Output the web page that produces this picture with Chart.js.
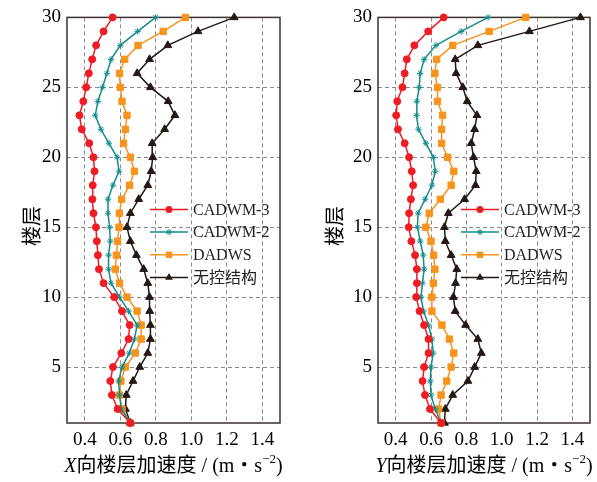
<!DOCTYPE html>
<html>
<head>
<meta charset="utf-8">
<script src="https://cdn.jsdelivr.net/npm/chart.js@4"></script>
<style>
  body { margin: 0; background: #fff; }
  #wrap { position: relative; width: 597px; height: 482px; overflow: hidden; }
  canvas { position: absolute; top: 0; }
</style>
</head>
<body>
<div id="wrap">
  <canvas id="chartX" width="298" height="482" style="left:0"></canvas>
  <canvas id="chartY" width="299" height="482" style="left:298px"></canvas>
</div>
<script>
const floors = [1,2,3,4,5,6,7,8,9,10,11,12,13,14,15,16,17,18,19,20,21,22,23,24,25,26,27,28,29,30];
const xTicks = [0.4, 0.6, 0.8, 1.0, 1.2, 1.4];
const yTicks = [5, 10, 15, 20, 25, 30];
const seriesNames = ["CADWM-3", "CADWM-2", "DADWS", "无控结构"];

// X direction, floor 1 -> 30
const xCadwm3 = [0.657,0.585,0.553,0.544,0.559,0.606,0.647,0.653,0.610,0.566,0.506,0.480,0.474,0.468,0.463,0.449,0.443,0.445,0.455,0.449,0.425,0.383,0.370,0.392,0.408,0.423,0.442,0.464,0.506,0.557];
const xCadwm2 = [0.657,0.606,0.596,0.591,0.610,0.651,0.680,0.695,0.647,0.596,0.548,0.534,0.534,0.544,0.540,0.531,0.531,0.559,0.593,0.582,0.536,0.491,0.459,0.474,0.500,0.525,0.548,0.600,0.698,0.799];
const xDadws   = [0.657,0.610,0.595,0.604,0.629,0.685,0.718,0.718,0.695,0.638,0.596,0.572,0.578,0.585,0.593,0.595,0.608,0.653,0.680,0.657,0.619,0.629,0.638,0.610,0.600,0.596,0.625,0.700,0.842,0.967];
const xNone    = [0.657,0.629,0.634,0.672,0.710,0.755,0.770,0.770,0.766,0.765,0.755,0.732,0.691,0.657,0.638,0.657,0.704,0.755,0.774,0.783,0.780,0.850,0.908,0.870,0.770,0.695,0.765,0.868,1.038,1.242];

// Y direction, floor 1 -> 30
const yCadwm3 = [0.657,0.594,0.566,0.552,0.561,0.586,0.586,0.561,0.535,0.516,0.520,0.520,0.510,0.489,0.474,0.476,0.486,0.499,0.491,0.476,0.451,0.413,0.403,0.409,0.438,0.451,0.463,0.506,0.584,0.672];
const yCadwm2 = [0.657,0.624,0.600,0.596,0.600,0.613,0.605,0.586,0.558,0.543,0.552,0.561,0.556,0.539,0.523,0.527,0.567,0.605,0.624,0.613,0.571,0.529,0.518,0.520,0.533,0.539,0.561,0.628,0.771,0.923];
const yDadws   = [0.657,0.643,0.657,0.689,0.714,0.729,0.704,0.662,0.605,0.605,0.613,0.622,0.615,0.600,0.571,0.590,0.653,0.714,0.729,0.694,0.660,0.660,0.666,0.637,0.637,0.622,0.632,0.723,0.929,1.136];
const yNone    = [0.676,0.681,0.723,0.809,0.847,0.885,0.865,0.796,0.737,0.727,0.739,0.746,0.714,0.681,0.676,0.698,0.790,0.852,0.856,0.841,0.828,0.847,0.860,0.805,0.780,0.742,0.737,0.865,1.157,1.446];

const colors = ["#ee1c24", "#138c8c", "#f7941d", "#231815"];
const styles = ["circle", "star", "rect", "triangle"];
const radii = [3.5, 3.2, 4.5, 4.5];

const serif = '"Liberation Serif", "Noto Sans CJK SC", serif';

function makeSets(lists) {
  return lists.map((vals, i) => ({
    label: seriesNames[i],
    data: vals.map((v, k) => ({ x: v, y: floors[k] })),
    showLine: true,
    borderColor: colors[i],
    backgroundColor: colors[i],
    borderWidth: 1.5,
    pointStyle: styles[i],
    pointRadius: radii[i],
    pointBorderWidth: 1,
    tension: 0,
    clip: false
  }));
}

function marker(ctx, style, x, y, r, color) {
  ctx.save();
  ctx.fillStyle = color;
  ctx.strokeStyle = color;
  ctx.lineWidth = 1;
  ctx.beginPath();
  if (style === "circle") {
    ctx.arc(x, y, r, 0, Math.PI * 2);
    ctx.fill();
  } else if (style === "rect") {
    const s = r * Math.SQRT1_2;
    ctx.fillRect(x - s, y - s, 2 * s, 2 * s);
  } else if (style === "triangle") {
    ctx.moveTo(x, y - r);
    ctx.lineTo(x + r * 0.866, y + r * 0.5);
    ctx.lineTo(x - r * 0.866, y + r * 0.5);
    ctx.closePath();
    ctx.fill();
  } else {
    for (let a = 0; a < 4; a++) {
      const t = a * Math.PI / 4;
      ctx.moveTo(x - r * Math.cos(t), y - r * Math.sin(t));
      ctx.lineTo(x + r * Math.cos(t), y + r * Math.sin(t));
    }
    ctx.stroke();
  }
  ctx.restore();
}

const decor = {
  id: "decor",
  beforeDatasetsDraw(chart) {
    const a = chart.chartArea, ctx = chart.ctx;
    ctx.save();
    ctx.strokeStyle = "#3a3330";
    ctx.lineWidth = 1.5;
    ctx.strokeRect(a.left, a.top, a.right - a.left, a.bottom - a.top);
    ctx.restore();
  },
  afterDraw(chart, args, opts) {
    const a = chart.chartArea, ctx = chart.ctx;
    ctx.save();
    // y title
    ctx.fillStyle = "#000";
    ctx.font = "20px " + serif;
    ctx.textAlign = "center";
    ctx.textBaseline = "middle";
    ctx.translate(opts.yTitleX, 226);
    ctx.rotate(-Math.PI / 2);
    ctx.fillText("楼层", 0, 0);
    ctx.restore();

    // x title with italic letter and superscript
    const parts = [
      { t: opts.dir, f: "italic 20px " + serif, dy: 0 },
      { t: "向楼层加速度 / (m・s", f: "20px " + serif, dy: 0 },
      { t: "−2", f: "13px " + serif, dy: -7 },
      { t: ")", f: "20px " + serif, dy: 0 }
    ];
    ctx.save();
    ctx.fillStyle = "#000";
    ctx.textBaseline = "middle";
    ctx.textAlign = "left";
    let total = 0;
    parts.forEach(p => { ctx.font = p.f; p.w = ctx.measureText(p.t).width; total += p.w; });
    let x = (a.left + a.right) / 2 - total / 2;
    parts.forEach(p => { ctx.font = p.f; ctx.fillText(p.t, x, 467 + p.dy); x += p.w; });
    ctx.restore();

    // legend
    ctx.save();
    chart.data.datasets.forEach((ds, i) => {
      const y = a.top + 192 + i * 22.7;
      const x0 = a.left + 83, x1 = a.left + 121;
      ctx.strokeStyle = ds.borderColor;
      ctx.lineWidth = 1.5;
      ctx.beginPath();
      ctx.moveTo(x0, y);
      ctx.lineTo(x1, y);
      ctx.stroke();
      marker(ctx, styles[i], (x0 + x1) / 2, y, radii[i], colors[i]);
      ctx.fillStyle = "#222";
      ctx.font = "16px " + serif;
      ctx.textAlign = "left";
      ctx.textBaseline = "middle";
      ctx.fillText(ds.label, a.left + 126, y + 1);
    });
    ctx.restore();
  }
};

function drawChart(id, lists, dir, axisWidth, padRight, yTitleX) {
  return new Chart(document.getElementById(id), {
    type: "scatter",
    data: { datasets: makeSets(lists) },
    plugins: [decor],
    options: {
      responsive: false,
      animation: false,
      devicePixelRatio: 1,
      layout: { padding: { top: 17, right: padRight, left: 0, bottom: 0 } },
      plugins: {
        legend: { display: false },
        tooltip: { enabled: false },
        decor: { dir: dir, yTitleX: yTitleX }
      },
      scales: {
        x: {
          type: "linear",
          min: 0.3,
          max: 1.5,
          afterBuildTicks: s => { s.ticks = xTicks.map(v => ({ value: v })); },
          afterFit: s => { s.height = 59; },
          ticks: {
            padding: 6,
            color: "#000",
            font: { family: serif, size: 19 },
            callback: v => v.toFixed(1)
          },
          grid: { color: "#8a8a8a", lineWidth: 1, drawTicks: false },
          border: { display: false, dash: [4, 3] }
        },
        y: {
          type: "linear",
          min: 1,
          max: 30,
          afterBuildTicks: s => { s.ticks = yTicks.map(v => ({ value: v })); },
          afterFit: s => { s.width = axisWidth; },
          ticks: {
            padding: 6,
            color: "#000",
            font: { family: serif, size: 19 }
          },
          grid: { color: "#8a8a8a", lineWidth: 1, drawTicks: false },
          border: { display: false, dash: [4, 3] }
        }
      }
    }
  });
}

drawChart("chartX", [xCadwm3, xCadwm2, xDadws, xNone], "X", 67, 18, 34);
drawChart("chartY", [yCadwm3, yCadwm2, yDadws, yNone], "Y", 80, 7, 39);
</script>
</body>
</html>
